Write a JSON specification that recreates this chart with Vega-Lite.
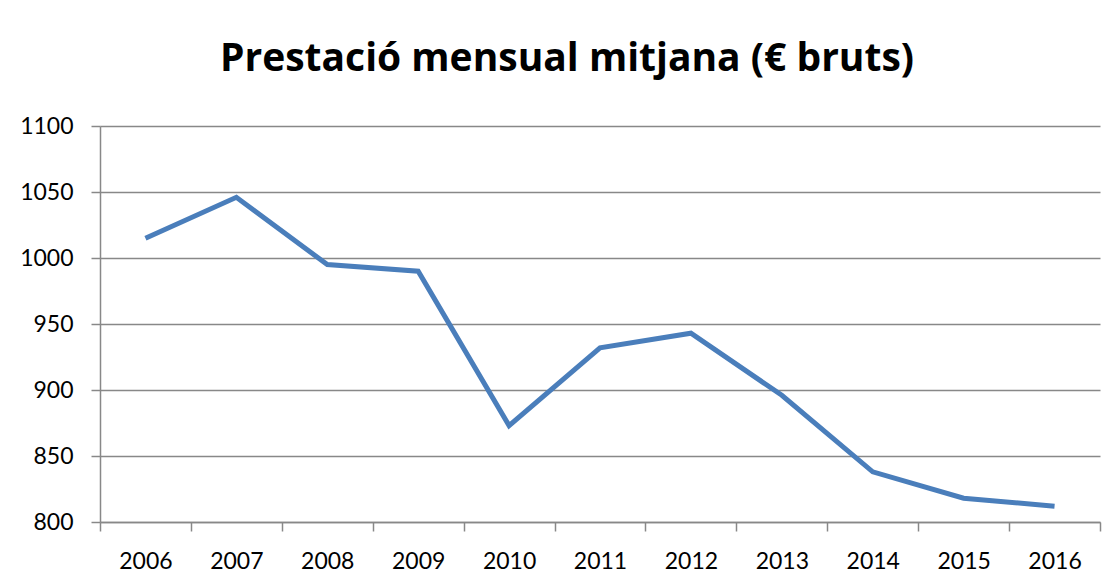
{
  "$schema": "https://vega.github.io/schema/vega-lite/v6.json",
  "autosize": {"type": "none"},
  "width": 1000,
  "height": 396,
  "padding": {"left": 100, "top": 126, "right": 18, "bottom": 59},
  "background": "white",
  "title": {
    "text": "Prestació mensual mitjana (€ bruts)",
    "font": "Open Sans",
    "fontSize": 39,
    "fontWeight": "bold",
    "color": "black",
    "anchor": "middle",
    "frame": "group",
    "dx": -33,
    "offset": 36
  },
  "data": {
    "values": [
      {"year": "2006", "value": 1015},
      {"year": "2007", "value": 1046},
      {"year": "2008", "value": 995},
      {"year": "2009", "value": 990},
      {"year": "2010", "value": 873},
      {"year": "2011", "value": 932},
      {"year": "2012", "value": 943},
      {"year": "2013", "value": 896},
      {"year": "2014", "value": 838},
      {"year": "2015", "value": 818},
      {"year": "2016", "value": 812}
    ]
  },
  "mark": {"type": "line", "color": "#4a7ebb", "strokeWidth": 5, "strokeJoin": "miter", "strokeCap": "butt"},
  "encoding": {
    "x": {
      "field": "year",
      "type": "ordinal",
      "scale": {"type": "band", "paddingInner": 0, "paddingOuter": 0},
      "axis": {
        "title": null,
        "labelAngle": 0,
        "labelFont": "Lato",
        "labelFontSize": 23,
        "labelColor": "black",
        "labelPadding": 19,
        "tickBand": "extent",
        "tickSize": 9,
        "tickColor": "#888888",
        "tickWidth": 1.5,
        "domainColor": "#888888",
        "domainWidth": 1.5,
        "grid": false
      }
    },
    "y": {
      "field": "value",
      "type": "quantitative",
      "scale": {"domain": [800, 1100], "nice": false, "zero": false},
      "axis": {
        "title": null,
        "format": "d",
        "values": [800, 850, 900, 950, 1000, 1050, 1100],
        "labelFont": "Lato",
        "labelFontSize": 23,
        "labelColor": "black",
        "labelPadding": 18,
        "tickSize": 9,
        "tickColor": "#888888",
        "tickWidth": 1.5,
        "domainColor": "#888888",
        "domainWidth": 1.5,
        "grid": true,
        "gridColor": "#888888",
        "gridWidth": 1.5,
        "gridOpacity": 1
      }
    }
  },
  "config": {"view": {"stroke": null}}
}
